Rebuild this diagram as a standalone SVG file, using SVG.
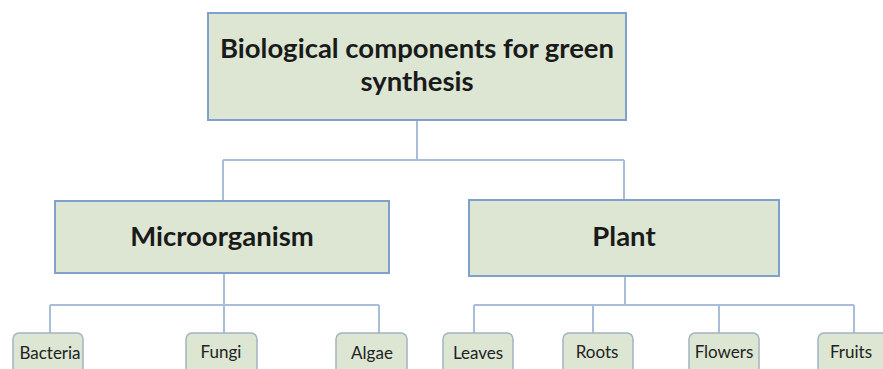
<svg xmlns="http://www.w3.org/2000/svg" width="883" height="369" viewBox="0 0 883 369">
<style>
.box{fill:#dce6d2;stroke:#7f9fcc;stroke-width:2}
.leaf{fill:#dce6d2;stroke:#a3b3c3;stroke-width:1.5}
.conn{fill:none;stroke:#a9bdd9;stroke-width:2}
.t1{font-family:Lato,"Liberation Sans",sans-serif;font-weight:bold;font-size:27.5px;fill:#1a1a1a;text-anchor:middle}
.t2{font-family:Lato,"Liberation Sans",sans-serif;font-size:17px;fill:#222;text-anchor:middle}
</style>
<rect width="883" height="369" fill="#fff"/>
<g id="connectors">
<path class="conn" d="M417 120V160M223 160H624M223 160V201M624 160V200"/>
<path class="conn" d="M224 273V305M50 305H379M50 305V333M224 305V333M379 305V333"/>
<path class="conn" d="M625 276V305M474 305H854M474 305V333M593 305V333M719 305V333M854 305V333"/>
</g>
<g id="root"><rect class="box" x="208" y="13" width="418" height="107"/>
<text class="t1" x="417" y="58">Biological components for green</text>
<text class="t1" x="417" y="91">synthesis</text></g>
<g id="micro"><rect class="box" x="55" y="201" width="334" height="72"/><text class="t1" x="222" y="246">Microorganism</text></g>
<g id="plant"><rect class="box" x="469" y="200" width="310" height="76"/><text class="t1" x="624" y="246">Plant</text></g>
<g id="bacteria"><rect class="leaf" x="13" y="333" width="70" height="45" rx="6"/><text class="t2" x="50" y="359">Bacteria</text></g>
<g id="fungi"><rect class="leaf" x="186" y="333" width="71" height="45" rx="6"/><text class="t2" x="221" y="358">Fungi</text></g>
<g id="algae"><rect class="leaf" x="336" y="333" width="71" height="45" rx="6"/><text class="t2" x="372" y="359">Algae</text></g>
<g id="leaves"><rect class="leaf" x="443" y="333" width="70" height="45" rx="6"/><text class="t2" x="478" y="359">Leaves</text></g>
<g id="roots"><rect class="leaf" x="563" y="333" width="70" height="45" rx="6"/><text class="t2" x="597" y="358">Roots</text></g>
<g id="flowers"><rect class="leaf" x="689" y="333" width="70" height="45" rx="6"/><text class="t2" x="724" y="358">Flowers</text></g>
<g id="fruits"><rect class="leaf" x="818" y="333" width="70" height="45" rx="6"/><text class="t2" x="851" y="358">Fruits</text></g>
</svg>
